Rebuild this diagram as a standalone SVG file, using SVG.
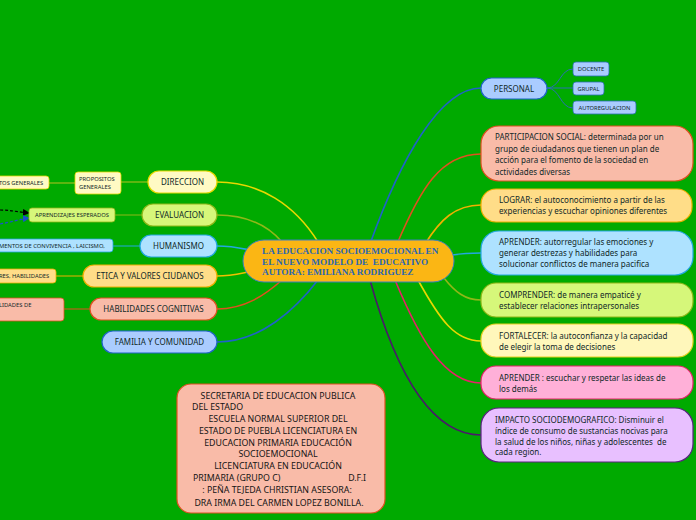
<svg xmlns="http://www.w3.org/2000/svg" width="696" height="520" viewBox="0 0 696 520">
<defs>
<style>
.t{font-family:"Noto Sans","Open Sans","DejaVu Sans",sans-serif;fill:#102828;white-space:pre}
.m{font-size:8px}
.s{font-size:5.8px}
.c{font-family:"Liberation Serif","Times New Roman",serif;font-weight:bold;font-size:9.2px;fill:#2a67b2;white-space:pre}
.ln{fill:none;stroke-width:1.6}
.sl{fill:none;stroke-width:1}
</style>
<marker id="ak" viewBox="0 0 8 8" refX="7" refY="4" markerWidth="7" markerHeight="7" orient="auto" markerUnits="userSpaceOnUse"><path d="M0,0 L8,4 L0,8 Z" fill="#000"/></marker>
<marker id="ab" viewBox="0 0 8 8" refX="7" refY="4" markerWidth="7" markerHeight="7" orient="auto" markerUnits="userSpaceOnUse"><path d="M0,0 L8,4 L0,8 Z" fill="#1a4fd0"/></marker>
</defs>
<rect width="696" height="520" fill="#00aa00"/>

<g id="connectors">
<path class="ln" stroke="#e8d800" d="M217,182 C260,182 295,205 318,242"/>
<path class="ln" stroke="#8fb818" d="M217,215 C250,215 270,228 282,242"/>
<path class="ln" stroke="#22a8e0" d="M217,246 C232,246 240,248 250,250"/>
<path class="ln" stroke="#f0c000" d="M217,276 C230,276 238,274 248,272"/>
<path class="ln" stroke="#e05020" d="M217,309 C245,309 265,295 282,280"/>
<path class="ln" stroke="#1f63c8" d="M217,342 C260,342 295,310 318,280"/>
<path class="ln" stroke="#1f63c8" d="M370,244 C400,160 440,88 481,88"/>
<path class="ln" stroke="#e05020" d="M397,244 C420,190 440,154 481,154"/>
<path class="ln" stroke="#f0b000" d="M425,244 C440,220 455,205 481,205"/>
<path class="ln" stroke="#22a8e0" d="M452,255 C465,253 470,253 481,253"/>
<path class="ln" stroke="#8fb818" d="M444,278 C455,292 465,300 481,300"/>
<path class="ln" stroke="#e8d800" d="M418,280 C440,320 455,341 481,341"/>
<path class="ln" stroke="#e8206a" d="M395,280 C420,340 445,383 481,383"/>
<path class="ln" stroke="#4a1a6a" d="M370,280 C395,370 430,435 481,435"/>
<path class="sl" stroke="#2a70b0" d="M547,88 C560,88 560,69 573,69"/>
<path class="sl" stroke="#2a70b0" d="M547,88 L573,88"/>
<path class="sl" stroke="#2a70b0" d="M547,88 C560,88 560,108 573,108"/>
<path class="sl" stroke="#b8c020" d="M148,182 L121,182"/>
<path class="sl" stroke="#b8c020" d="M75,183 L49,183"/>
<path class="sl" stroke="#8fb818" d="M142,215 L115,215"/>
<path class="sl" stroke="#22a8e0" d="M140,246 L113,246"/>
<path class="sl" stroke="#f0b000" d="M83,276 L56,276"/>
<path class="sl" stroke="#e05020" d="M90,309 L64,309"/>
<path fill="none" stroke="#000" stroke-width="1.2" stroke-dasharray="3,2" marker-end="url(#ak)" d="M0,210 C10,210 18,212 29,213"/>
<path fill="none" stroke="#1a4fd0" stroke-width="1.2" stroke-dasharray="3,2" marker-end="url(#ab)" d="M0,224 C12,222 20,219 29,218"/>
</g>

<g id="center">
<rect x="243" y="240" width="211" height="42" rx="21" fill="#fbb614" stroke="#3d7fc0" stroke-width="1"/>
<text class="c" x="262" y="254">LA EDUCACION SOCIOEMOCIONAL EN</text>
<text class="c" x="262" y="264.5">EL NUEVO MODELO DE  EDUCATIVO</text>
<text class="c" x="262" y="275">AUTORA: EMILIANA RODRIGUEZ</text>
</g>

<g id="direccion">
<rect x="148" y="171" width="69" height="22" rx="11" fill="#fffac4" stroke="#e8d800" stroke-width="1.2"/>
<text class="t m" x="182.5" y="185" text-anchor="middle">DIRECCION</text>
</g>
<g id="propositos">
<rect x="75" y="172" width="46" height="22" rx="3" fill="#fffac4" stroke="#e8d800" stroke-width="0.8"/>
<text class="t s" x="79" y="181">PROPOSITOS</text>
<text class="t s" x="79" y="189">GENERALES</text>
</g>
<g id="objetivos">
<rect x="-10" y="176" width="59" height="13" rx="3" fill="#fffac4" stroke="#e8d800" stroke-width="0.8"/>
<text class="t s" x="-1" y="185">TOS GENERALES</text>
</g>
<g id="evaluacion">
<rect x="142" y="204" width="75" height="22" rx="11" fill="#d6f77a" stroke="#8fb818" stroke-width="1.2"/>
<text class="t m" x="179.5" y="218" text-anchor="middle">EVALUACION</text>
</g>
<g id="aprendizajes">
<rect x="29" y="208" width="86" height="14" rx="3" fill="#d6f77a" stroke="#8fb818" stroke-width="0.8"/>
<text class="t s" x="72" y="217" text-anchor="middle">APRENDIZAJES ESPERADOS</text>
</g>
<g id="humanismo">
<rect x="140" y="235" width="77" height="22" rx="11" fill="#aee2ff" stroke="#22a8e0" stroke-width="1.2"/>
<text class="t m" x="178.5" y="249" text-anchor="middle">HUMANISMO</text>
</g>
<g id="convivencia">
<rect x="-10" y="239" width="123" height="13" rx="3" fill="#aee2ff" stroke="#22a8e0" stroke-width="0.8"/>
<text class="t s" x="-1" y="248">MENTOS DE CONVIVENCIA , LAICISMO,</text>
</g>
<g id="etica">
<rect x="83" y="265" width="134" height="22" rx="11" fill="#ffdd88" stroke="#f0b000" stroke-width="1.2"/>
<text class="t m" x="150" y="279" text-anchor="middle">ETICA Y VALORES CIUDANOS</text>
</g>
<g id="valores">
<rect x="-10" y="269" width="66" height="14" rx="3" fill="#ffdd88" stroke="#f0b000" stroke-width="0.8"/>
<text class="t s" x="-1" y="278">RES, HABILIDADES</text>
</g>
<g id="habilidades">
<rect x="90" y="298" width="127" height="22" rx="11" fill="#f9bba8" stroke="#e05020" stroke-width="1.2"/>
<text class="t m" x="153.5" y="312" text-anchor="middle">HABILIDADES COGNITIVAS</text>
</g>
<g id="habilidades-sub">
<rect x="-10" y="298" width="74" height="23" rx="3" fill="#f9bba8" stroke="#e05020" stroke-width="0.8"/>
<text class="t s" x="-1" y="307">LIDADES DE</text>
</g>
<g id="familia">
<rect x="102" y="331" width="115" height="22" rx="11" fill="#aaccff" stroke="#1f63c8" stroke-width="1.2"/>
<text class="t m" x="159.5" y="345" text-anchor="middle">FAMILIA Y COMUNIDAD</text>
</g>

<g id="personal">
<rect x="481" y="78" width="66" height="21" rx="10.5" fill="#aaccff" stroke="#1f63c8" stroke-width="1.2"/>
<text class="t m" x="514" y="91.5" text-anchor="middle">PERSONAL</text>
</g>
<g id="docente">
<rect x="573" y="62" width="36" height="14" rx="3" fill="#aaccff" stroke="#2a70b0" stroke-width="0.8"/>
<text class="t s" x="591" y="71" text-anchor="middle">DOCENTE</text>
</g>
<g id="grupal">
<rect x="573" y="82" width="31" height="13" rx="3" fill="#aaccff" stroke="#2a70b0" stroke-width="0.8"/>
<text class="t s" x="588.5" y="90.5" text-anchor="middle">GRUPAL</text>
</g>
<g id="autoregulacion">
<rect x="573" y="101" width="63" height="13" rx="3" fill="#aaccff" stroke="#2a70b0" stroke-width="0.8"/>
<text class="t s" x="604.5" y="109.5" text-anchor="middle">AUTOREGULACION</text>
</g>

<g id="participacion">
<rect x="481" y="126" width="212" height="55" rx="18" fill="#f9bba8" stroke="#e05020" stroke-width="1.2"/>
<text class="t m" x="495" y="140">PARTICIPACION SOCIAL: determinada por un</text>
<text class="t m" x="495" y="151.5">grupo de ciudadanos que tienen un plan de</text>
<text class="t m" x="495" y="163">acción para el fomento de la sociedad en</text>
<text class="t m" x="495" y="174.5">actividades diversas</text>
</g>
<g id="lograr">
<rect x="481" y="189" width="211" height="33" rx="15" fill="#ffdd88" stroke="#f0b000" stroke-width="1.2"/>
<text class="t m" x="499" y="203">LOGRAR: el autoconocimiento a partir de las</text>
<text class="t m" x="499" y="213.5">experiencias y escuchar opiniones diferentes</text>
</g>
<g id="aprender1">
<rect x="481" y="231" width="212" height="44" rx="18" fill="#aee2ff" stroke="#22a8e0" stroke-width="1.2"/>
<text class="t m" x="499" y="245">APRENDER: autorregular las emociones y</text>
<text class="t m" x="499" y="256">generar destrezas y habilidades para</text>
<text class="t m" x="499" y="267">solucionar conflictos de manera pacifica</text>
</g>
<g id="comprender">
<rect x="481" y="283" width="212" height="34" rx="15" fill="#d6f77a" stroke="#8fb818" stroke-width="1.2"/>
<text class="t m" x="499" y="298">COMPRENDER: de manera empaticé y</text>
<text class="t m" x="499" y="308.5">establecer relaciones intrapersonales</text>
</g>
<g id="fortalecer">
<rect x="481" y="324" width="212" height="33" rx="15" fill="#fff7bb" stroke="#e8d020" stroke-width="1.2"/>
<text class="t m" x="499" y="339">FORTALECER: la autoconfianza y la capacidad</text>
<text class="t m" x="499" y="349.5">de elegir la toma de decisiones</text>
</g>
<g id="aprender2">
<rect x="481" y="366" width="212" height="33" rx="15" fill="#ffb0d8" stroke="#e8206a" stroke-width="1.2"/>
<text class="t m" x="499" y="381">APRENDER : escuchar y respetar las ideas de</text>
<text class="t m" x="499" y="391.5">los demás</text>
</g>
<g id="impacto">
<rect x="481" y="408" width="212" height="54" rx="18" fill="#e8c0ff" stroke="#5a2280" stroke-width="1.2"/>
<text class="t m" x="495" y="423">IMPACTO SOCIODEMOGRAFICO: Disminuir el</text>
<text class="t m" x="495" y="434">índice de consumo de sustancias nocivas para</text>
<text class="t m" x="495" y="444.5">la salud de los niños, niñas y adolescentes  de</text>
<text class="t m" x="495" y="455">cada region.</text>
</g>

<g id="secretaria">
<rect x="177" y="384" width="208" height="129" rx="14" fill="#f9bba8" stroke="#e05020" stroke-width="1.2"/>
<g class="t" style="font-size:8.8px;fill:#141414" text-anchor="middle">
<text x="278" y="399">SECRETARIA DE EDUCACION PUBLICA</text>
<text x="192" y="410" text-anchor="start">DEL ESTADO</text>
<text x="278" y="422">ESCUELA NORMAL SUPERIOR DEL</text>
<text x="278" y="434">ESTADO DE PUEBLA LICENCIATURA EN</text>
<text x="278" y="446">EDUCACION PRIMARIA EDUCACIÓN</text>
<text x="278" y="457">SOCIOEMOCIONAL</text>
<text x="278" y="469">LICENCIATURA EN EDUCACIÓN</text>
<text x="193" y="481" text-anchor="start">PRIMARIA (GRUPO C)</text>
<text x="366" y="481" text-anchor="end">D.F.I</text>
<text x="277" y="493">: PEÑA TEJEDA CHRISTIAN  ASESORA:</text>
<text x="279" y="506">DRA IRMA DEL CARMEN LOPEZ BONILLA.</text>
</g>
</g>
</svg>
